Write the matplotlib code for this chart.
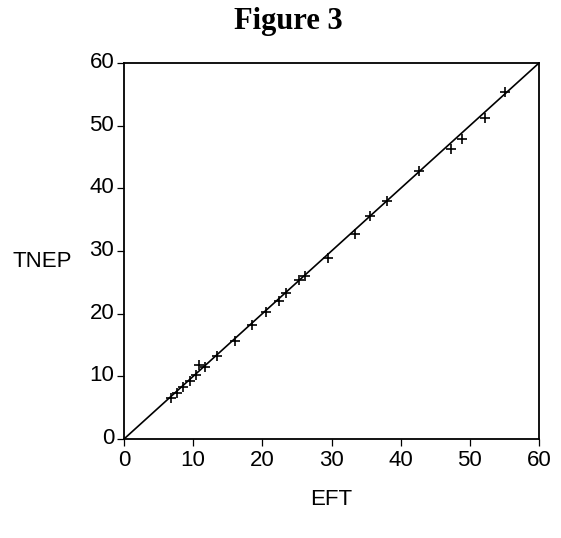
import matplotlib
matplotlib.use("Agg")
import matplotlib.pyplot as plt
from matplotlib.transforms import ScaledTranslation

# Data
eft = [6.8, 7.7, 8.6, 9.6, 10.4, 10.9, 11.7, 13.4, 16.0, 18.5, 20.6, 22.4, 23.4,
       25.3, 26.1, 29.5, 33.4, 35.6, 38.0, 42.65, 47.3, 48.9, 52.2, 55.1]
tnep = [6.5, 7.4, 8.3, 9.3, 10.2, 11.8, 11.5, 13.3, 15.7, 18.2, 20.3, 22.0, 23.3,
        25.3, 26.0, 28.9, 32.7, 35.6, 38.0, 42.7, 46.2, 47.9, 51.2, 55.3]
fit_x = [0, 60]
fit_y = [0, 60]
ticks = [0, 10, 20, 30, 40, 50, 60]

sans = ["Liberation Sans", "DejaVu Sans"]
serif = ["Liberation Serif", "DejaVu Serif"]

fig = plt.figure(figsize=(5.61, 5.38), dpi=100)
ax = fig.add_axes([124/561, 1-439/538, 415/561, 376/538])

ax.plot(fit_x, fit_y, color="black", lw=1.2)
ax.plot(eft, tnep, linestyle="none", marker="+", color="black",
        markersize=7.5, markeredgewidth=1.2)

ax.set_xlim(0, 60)
ax.set_ylim(0, 60)
ax.set_xticks(ticks)
ax.set_yticks(ticks)
ax.set_xticklabels([str(t) for t in ticks], fontfamily=sans, fontsize=16)
ax.set_yticklabels([str(t) for t in ticks], fontfamily=sans, fontsize=16)
ax.tick_params(direction="out", length=5, width=0.9, pad=3, color="black")
ax.tick_params(axis="y", pad=2)

# shift y tick labels up a little, as in the reference
off = ScaledTranslation(0, 3/100, fig.dpi_scale_trans)
for lab in ax.get_yticklabels():
    lab.set_transform(lab.get_transform() + off)

for s in ax.spines.values():
    s.set_linewidth(1.3)
    s.set_color("black")

ax.set_xlabel("EFT", fontfamily=sans, fontsize=16)
ax.xaxis.set_label_coords(0.5, -0.16)
ax.xaxis.label.set_va("center")
ax.set_ylabel("TNEP", fontfamily=sans, fontsize=16, rotation=0)
ax.yaxis.set_label_coords(-0.198, 0.471)
ax.yaxis.label.set_va("center")
ax.yaxis.label.set_ha("center")

fig.text(288/561, 1-22/538, "Figure 3", fontfamily=serif, fontweight="bold",
         fontsize=22, ha="center", va="center")

fig.savefig("out.png", dpi=100)
